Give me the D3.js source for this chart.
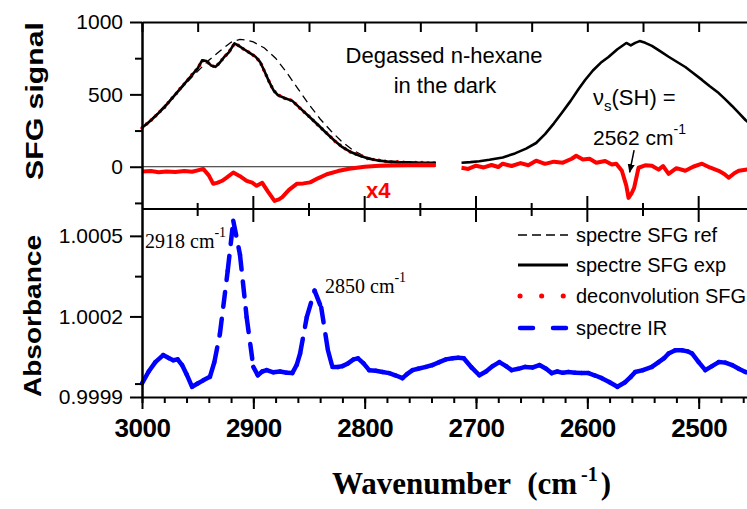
<!DOCTYPE html>
<html>
<head>
<meta charset="utf-8">
<script src="https://cdn.jsdelivr.net/npm/d3@7"></script>
<style>
  body { margin: 0; background: #fff; }
  svg { display: block; }
</style>
</head>
<body>
<script>
// SFG reference spectrum (dashed), [wavenumber, signal]
var refSpec = [[3000,265],[2990,340],[2980,420],[2970,500],[2960,580],[2950,660],[2940,735],[2930,800],[2920,860],[2912,880],[2905,874],[2900,862],[2890,820],[2880,750],[2870,650],[2860,540],[2850,430],[2840,330],[2830,245],[2820,170],[2810,112],[2800,72],[2790,48],[2780,34],[2770,26],[2760,21],[2750,19],[2740,18]];

// SFG experimental spectrum (solid), two pieces
var expLeft = [[3000,270],[2995,300],[2990,335],[2985,372],[2980,410],[2975,455],[2970,500],[2965,545],[2960,590],[2955,635],[2950,680],[2946,735],[2942,730],[2938,700],[2934,690],[2930,720],[2926,760],[2922,790],[2917,852],[2913,835],[2908,810],[2903,785],[2898,760],[2894,725],[2890,660],[2886,590],[2882,530],[2878,495],[2872,475],[2865,455],[2858,405],[2849,340],[2842,290],[2834,230],[2827,180],[2820,135],[2812,100],[2805,78],[2796,55],[2787,42],[2778,35],[2770,32],[2760,30],[2750,28],[2742,27],[2736,28]];
var expRight = [[2713,28],[2705,32],[2697,38],[2688,48],[2676,64],[2665,92],[2655,125],[2646,164],[2638,225],[2630,300],[2623,371],[2615,455],[2608,535],[2602,599],[2595,665],[2588,718],[2581,758],[2573,812],[2565,855],[2561,838],[2557,856],[2553,868],[2548,856],[2542,835],[2535,800],[2527,760],[2519,722],[2512,689],[2505,648],[2497,600],[2490,556],[2482,509],[2476,465],[2470,420],[2464,372],[2458,323],[2453,290]];

// deconvolution SFG (red dotted)
var deconv = [[3000,268],[2995,302],[2990,333],[2985,374],[2980,408],[2975,457],[2970,498],[2965,547],[2960,588],[2955,637],[2950,678],[2946,733],[2942,728],[2938,702],[2934,688],[2930,722],[2926,758],[2922,792],[2917,850],[2913,837],[2908,808],[2903,787],[2898,758],[2894,727],[2890,658],[2886,592],[2882,528],[2878,497],[2872,473],[2865,457],[2858,403],[2849,342],[2842,288],[2834,232],[2827,178],[2820,137],[2812,98],[2805,80],[2796,53],[2787,44],[2778,33],[2770,34],[2760,28],[2750,30],[2742,25],[2736,26]];

// difference x4 (red thick)
var diffLeft = [[3000,-33],[2992,-30],[2985,-38],[2978,-33],[2970,-36],[2962,-30],[2955,-35],[2950,-25],[2945,-15],[2940,-60],[2936,-118],[2932,-110],[2928,-97],[2924,-75],[2918,-40],[2912,-65],[2906,-97],[2901,-110],[2897,-132],[2892,-111],[2887,-170],[2881,-236],[2877,-225],[2874,-210],[2868,-160],[2861,-118],[2855,-115],[2849,-108],[2842,-80],[2834,-52],[2824,-30],[2814,-14],[2800,0],[2787,7],[2775,10],[2760,12],[2748,14],[2736,12]];
var diffRight = [[2713,-7],[2707,-15],[2700,7],[2693,-5],[2686,12],[2680,-2],[2676,21],[2668,5],[2660,25],[2653,10],[2646,42],[2638,20],[2630,35],[2622,28],[2614,55],[2610,76],[2604,50],[2598,55],[2592,28],[2584,40],[2578,15],[2574,21],[2569,-28],[2565,-130],[2563,-215],[2560,-180],[2558,-146],[2554,-7],[2548,10],[2542,7],[2536,-20],[2532,5],[2527,-49],[2520,-10],[2512,-28],[2505,0],[2497,21],[2490,-5],[2482,-28],[2477,-50],[2473,-76],[2468,-45],[2464,-28],[2458,-21],[2453,-15]];

// IR absorbance spectrum (blue dashed)
var irSpec = [[3000,0.999951],[2994,0.999995],[2988,1.00003],[2981,1.000056],[2976,1.000045],[2972,1.000037],[2968,1.00004],[2964,1.000019],[2960,0.999985],[2955,0.999938],[2950,0.99995],[2945,0.999962],[2939,0.999975],[2935,1.00003],[2930,1.000136],[2923,1.00037],[2918,1.000556],[2912,1.00043],[2906,1.000197],[2900,1.000012],[2896,0.999981],[2892,0.999995],[2888,1.0],[2882,0.999992],[2876,0.999995],[2870,0.99999],[2865,0.999989],[2861,1.00002],[2858,1.000062],[2852,1.000197],[2845,1.000296],[2839,1.000233],[2833,1.000074],[2829,1.000012],[2824,1.000012],[2820,1.000015],[2815,1.000025],[2810,1.00004],[2806,1.000044],[2801,1.000025],[2796,1.0],[2790,0.999998],[2784,0.999993],[2778,0.999989],[2772,0.99998],[2766,0.99997],[2762,0.999985],[2757,1.0],[2752,1.000005],[2745,1.000012],[2739,1.000019],[2733,1.00003],[2727,1.00004],[2721,1.000044],[2716,1.000046],[2711,1.000044],[2704,1.00001],[2697,0.999981],[2691,0.999995],[2685,1.000015],[2679,1.00003],[2673,1.000015],[2668,1.0],[2662,1.000005],[2656,1.000012],[2649,1.00001],[2643,1.000019],[2637,1.000005],[2632,0.999989],[2627,0.999995],[2622,0.99999],[2617,0.999993],[2611,0.99999],[2605,0.999989],[2599,0.999989],[2593,0.99998],[2587,0.99997],[2580,0.999955],[2573,0.999938],[2566,0.999955],[2561,0.999975],[2557,0.999993],[2550,1.0],[2542,1.000012],[2536,1.00003],[2531,1.000045],[2527,1.000062],[2521,1.000074],[2515,1.000074],[2510,1.00007],[2506,1.000062],[2500,1.00003],[2494,1.0],[2488,1.000015],[2482,1.00003],[2476,1.000028],[2470,1.000019],[2464,1.000005],[2458,0.999993],[2453,0.99999]];

var xMajor = [3000, 2900, 2800, 2700, 2600, 2500];
var sfgTicks = [0, 500, 1000];
var sfgMinor = [-250, 250, 750];
var absTicks = [0.9999, 1.0002, 1.0005];
var absMinor = [0.99995, 1.00035];
var legendNames = ["spectre SFG ref", "spectre SFG exp", "deconvolution SFG", "spectre IR"];

var W = 747, H = 509;
var left = 142, right = 751, topY = 22, midY = 209, botY = 397;
var sans = "'Liberation Sans', Arial, sans-serif";
var serif = "'Liberation Serif', 'Times New Roman', serif";

var svg = d3.select("body").append("svg")
    .attr("width", W)
    .attr("height", H);

var x = d3.scaleLinear().domain([3000, 2453]).range([left, right]);
var ySfg = d3.scaleLinear().domain([-292, 1000]).range([midY, topY]);
var yAbs = d3.scaleLinear().domain([0.9999, 1.0006]).range([botY, midY]);

var lineSfg = d3.line().x(function (d) { return x(d[0]); }).y(function (d) { return ySfg(d[1]); });

// zero line
svg.append("line")
    .attr("x1", x(3000)).attr("x2", x(2737))
    .attr("y1", ySfg(0)).attr("y2", ySfg(0))
    .attr("stroke", "#222").attr("stroke-width", 1);

// curves, top panel
svg.append("path").datum(refSpec)
    .attr("d", lineSfg).attr("fill", "none")
    .attr("stroke", "#000").attr("stroke-width", 1.3)
    .attr("stroke-dasharray", "8,5");

svg.append("path").datum(deconv)
    .attr("d", lineSfg).attr("fill", "none")
    .attr("stroke", "#f00").attr("stroke-width", 3.5)
    .attr("stroke-linecap", "round")
    .attr("stroke-dasharray", "0.1,6");

[expLeft, expRight].forEach(function (s) {
    svg.append("path").datum(s)
        .attr("d", lineSfg).attr("fill", "none")
        .attr("stroke", "#000").attr("stroke-width", 2.6)
        .attr("stroke-linejoin", "round");
});

[diffLeft, diffRight].forEach(function (s) {
    svg.append("path").datum(s)
        .attr("d", lineSfg).attr("fill", "none")
        .attr("stroke", "#f00").attr("stroke-width", 4)
        .attr("stroke-linejoin", "round");
});

// IR, dash pattern restarts at every point like the original plot
svg.append("g").selectAll("line")
    .data(d3.pairs(irSpec))
    .enter()
    .append("line")
    .attr("x1", function (d) { return x(d[0][0]); })
    .attr("y1", function (d) { return yAbs(d[0][1]); })
    .attr("x2", function (d) { return x(d[1][0]); })
    .attr("y2", function (d) { return yAbs(d[1][1]); })
    .attr("stroke", "#00f").attr("stroke-width", 4.5)
    .attr("stroke-linecap", "round")
    .attr("stroke-dasharray", "15,12");

// axes
function styleAxis(g) {
    g.selectAll("path, line").attr("stroke", "#000").attr("stroke-width", 2);
}
var xMinor20 = d3.range(3000, 2452, -20);
var xMinor50 = d3.range(3000, 2452, -50);

// bottom axis
svg.append("g").attr("transform", "translate(0," + botY + ")")
    .call(d3.axisBottom(x).tickValues(xMinor20).tickSize(6).tickSizeOuter(0).tickFormat(""))
    .call(styleAxis);
var bx = svg.append("g").attr("transform", "translate(0," + botY + ")")
    .call(d3.axisBottom(x).tickValues(xMajor).tickSize(12).tickSizeOuter(0).tickPadding(10).tickFormat(d3.format("d")))
    .call(styleAxis);
bx.select(".domain").remove();
bx.selectAll("text").attr("font-family", sans).attr("font-weight", "bold")
    .attr("font-size", 26).attr("fill", "#000").attr("letter-spacing", -0.5);

// top axis (ticks inward)
svg.append("g").attr("transform", "translate(0," + topY + ")")
    .call(d3.axisBottom(x).tickValues(xMinor50).tickSize(10).tickSizeOuter(0).tickFormat(""))
    .call(styleAxis);

// middle line with crossing ticks
svg.append("line").attr("x1", left).attr("x2", right)
    .attr("y1", midY).attr("y2", midY)
    .attr("stroke", "#000").attr("stroke-width", 2);
svg.append("g").selectAll("line")
    .data(xMinor50.slice(1))
    .enter().append("line")
    .attr("x1", function (d) { return x(d); })
    .attr("x2", function (d) { return x(d); })
    .attr("y1", function (d) { return d % 100 === 0 ? midY - 13 : midY - 6; })
    .attr("y2", function (d) { return d % 100 === 0 ? midY + 13 : midY + 7; })
    .attr("stroke", "#000").attr("stroke-width", 2);

// left axes
function leftAxis(scale, major, minor, fmt) {
    svg.append("g").attr("transform", "translate(" + left + ",0)")
        .call(d3.axisLeft(scale).tickValues(minor).tickSize(7).tickSizeOuter(0).tickFormat(""))
        .call(styleAxis);
    var g = svg.append("g").attr("transform", "translate(" + left + ",0)")
        .call(d3.axisLeft(scale).tickValues(major).tickSize(12).tickSizeOuter(0).tickPadding(7).tickFormat(fmt))
        .call(styleAxis);
    g.selectAll("text").attr("font-family", sans).attr("font-size", 21).attr("fill", "#000");
    return g;
}
leftAxis(ySfg, sfgTicks, sfgMinor, d3.format("d"));
leftAxis(yAbs, absTicks, absMinor, d3.format(".4f"));

// right axes (ticks inward)
svg.append("g").attr("transform", "translate(" + right + ",0)")
    .call(d3.axisLeft(ySfg).tickValues(sfgTicks).tickSize(-10).tickSizeOuter(0).tickFormat(""))
    .call(styleAxis);
svg.append("g").attr("transform", "translate(" + right + ",0)")
    .call(d3.axisLeft(yAbs).tickValues(absTicks).tickSize(-10).tickSizeOuter(0).tickFormat(""))
    .call(styleAxis);

// axis titles
svg.append("text")
    .attr("transform", "translate(43," + ((topY + 180) / 2) + ") rotate(-90)")
    .attr("text-anchor", "middle")
    .attr("font-family", sans).attr("font-weight", "bold").attr("font-size", 24)
    .attr("textLength", 158).attr("lengthAdjust", "spacingAndGlyphs")
    .text("SFG signal");
svg.append("text")
    .attr("transform", "translate(41," + ((235 + botY) / 2) + ") rotate(-90)")
    .attr("text-anchor", "middle")
    .attr("font-family", sans).attr("font-weight", "bold").attr("font-size", 24)
    .attr("textLength", 162).attr("lengthAdjust", "spacingAndGlyphs")
    .text("Absorbance");

var xt = svg.append("text").attr("x", 332).attr("y", 494)
    .attr("font-family", serif).attr("font-weight", "bold").attr("font-size", 31);
xt.append("tspan").text("Wavenumber");
xt.append("tspan").attr("dx", 16).text("(cm");
xt.append("tspan").attr("font-size", 20).attr("dx", 4).attr("dy", -13).text("-1");
xt.append("tspan").attr("dx", 3).attr("dy", 13).text(")");

// annotations
function label(xp, yp, size, txt, anchor) {
    return svg.append("text").attr("x", xp).attr("y", yp)
        .attr("font-family", sans).attr("font-size", size)
        .attr("text-anchor", anchor || "start").text(txt);
}
label(444, 63, 22, "Degassed n-hexane", "middle");
label(445, 93, 22, "in the dark", "middle");

var nu = svg.append("text").attr("x", 593).attr("y", 105)
    .attr("font-family", sans).attr("font-size", 22);
nu.append("tspan").text("\u03bd");
nu.append("tspan").attr("font-size", 15).attr("dy", 6).text("s");
nu.append("tspan").attr("dy", -6).text("(SH) =");

var cm = svg.append("text").attr("x", 593).attr("y", 145)
    .attr("font-family", sans).attr("font-size", 21);
cm.append("tspan").text("2562 cm");
cm.append("tspan").attr("font-size", 14).attr("dy", -11).text("-1");

// arrow to the SH dip
svg.append("defs").append("marker")
    .attr("id", "ah").attr("viewBox", "0 0 10 10")
    .attr("refX", 9).attr("refY", 5)
    .attr("markerWidth", 9).attr("markerHeight", 9)
    .attr("markerUnits", "userSpaceOnUse")
    .attr("orient", "auto")
    .append("path").attr("d", "M0,1 L10,5 L0,9 Z").attr("fill", "#000");
svg.append("line")
    .attr("x1", x(2558)).attr("y1", ySfg(115))
    .attr("x2", x(2562)).attr("y2", ySfg(-38))
    .attr("stroke", "#000").attr("stroke-width", 1.5)
    .attr("marker-end", "url(#ah)");

svg.append("text").attr("x", 366).attr("y", 198)
    .attr("font-family", sans).attr("font-weight", "bold").attr("font-size", 22)
    .attr("fill", "#f00").text("x4");

function peakLabel(xp, yp, txt) {
    var t = svg.append("text").attr("x", xp).attr("y", yp)
        .attr("font-family", serif).attr("font-size", 20);
    t.append("tspan").text(txt);
    t.append("tspan").attr("font-size", 14).attr("dy", -11).text("-1");
}
peakLabel(145, 248, "2918 cm");
peakLabel(325, 293, "2850 cm");

// legend
var lg = svg.append("g");
var lx1 = 518, lx2 = 568, ly = [235, 265, 296, 328];
lg.append("line").attr("x1", lx1).attr("x2", lx2).attr("y1", ly[0]).attr("y2", ly[0])
    .attr("stroke", "#000").attr("stroke-width", 1.3).attr("stroke-dasharray", "9,5");
lg.append("line").attr("x1", lx1).attr("x2", lx2).attr("y1", ly[1]).attr("y2", ly[1])
    .attr("stroke", "#000").attr("stroke-width", 3);
lg.append("line").attr("x1", lx1 + 2).attr("x2", lx2).attr("y1", ly[2]).attr("y2", ly[2])
    .attr("stroke", "#f00").attr("stroke-width", 5).attr("stroke-linecap", "round")
    .attr("stroke-dasharray", "0.1,21.5");
lg.append("line").attr("x1", lx1 + 2).attr("x2", lx2).attr("y1", ly[3]).attr("y2", ly[3])
    .attr("stroke", "#00f").attr("stroke-width", 4.5).attr("stroke-linecap", "round")
    .attr("stroke-dasharray", "13,20");
lg.selectAll("text").data(legendNames).enter().append("text")
    .attr("x", 576)
    .attr("y", function (d, i) { return ly[i] + 7; })
    .attr("font-family", sans).attr("font-size", 20)
    .text(function (d) { return d; });
</script>
</body>
</html>
